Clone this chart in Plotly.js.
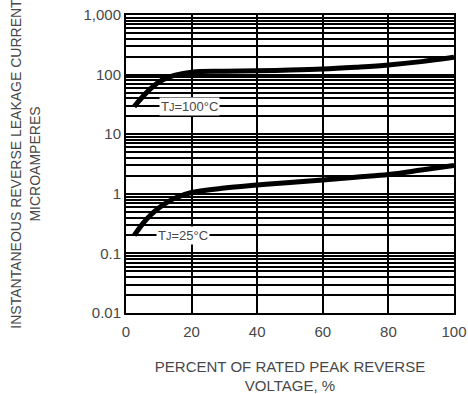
<!DOCTYPE html>
<html><head><meta charset="utf-8">
<script src="https://cdn.plot.ly/plotly-3.0.1.min.js"></script>
<style>html,body{margin:0;padding:0;background:#fff;}#chart{width:468px;height:394px;}</style>
</head><body><div id="chart"></div>
<script>
// Data
const voltagePct = [2.5, 5, 7.5, 10, 12.5, 15, 20, 30, 40, 50, 60, 70, 80, 90, 100];
const leak100C = [29, 42, 58, 75, 88, 98, 110, 114, 116, 119, 124, 133, 145, 165, 195];
const leak25C  = [0.2, 0.31, 0.44, 0.58, 0.72, 0.85, 1.05, 1.25, 1.4, 1.55, 1.7, 1.9, 2.1, 2.5, 3.0];
const yTickVals = [];
const yTickText = [];
const decades = [0.01, 0.1, 1, 10, 100];
const decadeLabels = ['0.01', '0.1', '1', '10', '100'];
decades.forEach((d, i) => {
  for (let m = 1; m <= 9; m++) {
    yTickVals.push(+(d * m).toPrecision(3));
    yTickText.push(m === 1 ? decadeLabels[i] : '');
  }
});
yTickVals.push(1000); yTickText.push('1,000');
const xTickVals = [0, 20, 40, 60, 80, 100];
const xTickText = ['0', '20', '40', '60', '80', '100'];
const labels = [
  {x: 19.5, y: 29, text: 'T<span style="font-size:11px">J</span>=100°C'},
  {x: 17.5, y: 0.2, text: 'T<span style="font-size:11px">J</span>=25°C'}
];

const font = {family: 'Liberation Sans, Arial, sans-serif', size: 15, color: '#484848'};
const yTitleFont = {family: font.family, size: 14, color: '#484848'};
const traces = [
  {x: voltagePct, y: leak100C, mode: 'lines', line: {color: '#000', width: 5, shape: 'spline'}, hoverinfo: 'skip'},
  {x: voltagePct, y: leak25C, mode: 'lines', line: {color: '#000', width: 5, shape: 'spline'}, hoverinfo: 'skip'}
];
const layout = {
  width: 468, height: 394,
  margin: {l: 126, r: 14, t: 15, b: 81},
  paper_bgcolor: '#fff', plot_bgcolor: '#fff',
  showlegend: false,
  font: font,
  xaxis: {
    range: [0, 100], tickvals: xTickVals, ticktext: xTickText,
    showgrid: true, gridcolor: '#000', gridwidth: 2, zeroline: false,
    showline: true, linecolor: '#000', linewidth: 2, mirror: true,
    ticks: '', tickfont: font, ticklabelstandoff: 4,
    title: {text: 'PERCENT OF RATED PEAK REVERSE<br>VOLTAGE, %', font: font, standoff: 22}
  },
  yaxis: {
    type: 'log', range: [-2, 3], tickvals: yTickVals, ticktext: yTickText,
    showgrid: true, gridcolor: '#000', gridwidth: 2, zeroline: false,
    showline: true, linecolor: '#000', linewidth: 2, mirror: true,
    ticks: '', tickfont: font,
    title: {text: 'INSTANTANEOUS REVERSE LEAKAGE CURRENT<br>MICROAMPERES', font: yTitleFont, standoff: 40}
  },
  annotations: labels.map(l => ({
    x: l.x, y: Math.log10(l.y), xref: 'x', yref: 'y', text: l.text, showarrow: false,
    bgcolor: '#fff', borderpad: 1, font: {family: font.family, size: 13, color: '#484848'}
  }))
};
Plotly.newPlot('chart', traces, layout, {staticPlot: true, displayModeBar: false});
</script></body></html>
